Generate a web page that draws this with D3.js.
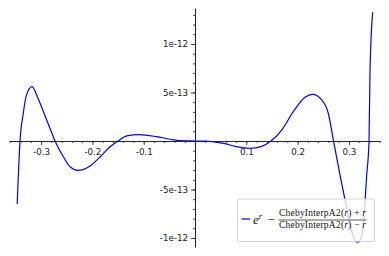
<!DOCTYPE html>
<html>
<head>
<meta charset="utf-8">
<script src="https://d3js.org/d3.v7.min.js"></script>
<style>
  body { margin: 0; background: #fff; }
  .tick text { font-family: "DejaVu Sans", sans-serif; font-size: 8.7px; fill: #222; }
</style>
</head>
<body>
<div id="chart"></div>
<script>
// set the dimensions of the graph
const width = 389
const height = 256

// curve (r, error)
var rVals = [-0.3466, -0.3411, -0.3347, -0.3294, -0.3177, -0.3074, -0.2943, -0.2840, -0.2729,
  -0.2567, -0.2437, -0.2281, -0.2047, -0.1852, -0.1657, -0.1501, -0.1331, -0.1086, -0.0747,
  -0.0487, -0.0292, 0, 0.0195, 0.0585, 0.0780, 0.1072, 0.1300, 0.1481, 0.1690, 0.1916,
  0.2144, 0.2294, 0.2470, 0.2598, 0.2700, 0.2827, 0.2924, 0.3055, 0.3133, 0.3172, 0.3230,
  0.3281, 0.3347, 0.3392, 0.3411, 0.3464]
var errVals = [-6.5e-13, 0, 2.86e-13, 4.57e-13, 5.6e-13, 4.57e-13, 2.86e-13, 1.47e-13, 0,
  -1.62e-13, -2.65e-13, -3.04e-13, -2.58e-13, -1.65e-13, -0.59e-13, 0, 0.52e-13, 0.65e-13, 0.44e-13,
  0.18e-13, 0.03e-13, 0, -0.01e-13, -0.28e-13, -0.55e-13, -0.75e-13, -0.55e-13, 0, 1.13e-13, 3.02e-13,
  4.51e-13, 4.81e-13, 4.23e-13, 2.86e-13, 0, -3.51e-13, -6.08e-13, -9.35e-13, -10.3e-13, -10.44e-13, -10.1e-13,
  -8.66e-13, -3.51e-13, 0, 7.14e-13, 13.27e-13]

// ticks
var xMajor = [-0.3, -0.2, -0.1, 0.1, 0.2, 0.3]
var xMinor = d3.range(-36, 37, 2).map(function(d){ return d / 100 })
var yMajor = [-1e-12, -5e-13, 5e-13, 1e-12]
var yMajorLabels = ["-1e-12", "-5e-13", "5e-13", "1e-12"]
var yMinor = d3.range(-10, 14).map(function(d){ return d * 1e-13 })

var svg = d3.select("#chart")
  .append("svg")
  .attr("width", width)
  .attr("height", height)

var x = d3.scaleLinear()
  .domain([-0.3626, 0.3606])
  .range([9, 380])

var y = d3.scaleLinear()
  .domain([-1.093e-12, 1.371e-12])
  .range([247, 8])

// minor ticks first
svg.append("g")
  .attr("transform", "translate(0," + y(0) + ")")
  .call(d3.axisBottom(x).tickValues(xMinor).tickSize(2).tickFormat(""))
  .call(function(g){ g.select(".domain").remove() })

svg.append("g")
  .attr("transform", "translate(" + x(0) + ",0)")
  .call(d3.axisLeft(y).tickValues(yMinor).tickSize(2).tickFormat(""))
  .call(function(g){ g.select(".domain").remove() })

// x axis
svg.append("g")
  .attr("transform", "translate(0," + y(0) + ")")
  .call(d3.axisBottom(x)
    .tickValues(xMajor)
    .tickSize(4)
    .tickSizeOuter(0)
    .tickPadding(4)
    .tickFormat(d3.format(".1f")))
  .call(function(g){ g.selectAll("text").text(function(d){ return d3.format(".1f")(d).replace("−", "-") }) })

// y axis
svg.append("g")
  .attr("transform", "translate(" + x(0) + ",0)")
  .call(d3.axisLeft(y)
    .tickValues(yMajor)
    .tickSize(4)
    .tickSizeOuter(0)
    .tickPadding(3)
    .tickFormat(function(d, i){ return yMajorLabels[i] }))

svg.selectAll(".domain").attr("stroke", "#222").attr("stroke-width", 1)
svg.selectAll(".tick line").attr("stroke", "#222").attr("stroke-width", 0.8)

// the error curve
var pts = rVals.map(function(r, i){ return [r, errVals[i]] })

var line = d3.line()
  .x(function(d){ return x(d[0]) })
  .y(function(d){ return y(d[1]) })
  .curve(d3.curveMonotoneX)

svg.append("path")
  .datum(pts)
  .attr("fill", "none")
  .attr("stroke", "blue")
  .attr("stroke-width", 1.2)
  .attr("d", line)

// legend
var legend = svg.append("g")

legend.append("rect")
  .attr("x", 237.5)
  .attr("y", 199)
  .attr("width", 137)
  .attr("height", 42.5)
  .attr("rx", 2)
  .attr("fill", "white")
  .attr("fill-opacity", 0.8)
  .attr("stroke", "#ccc")
  .attr("stroke-width", 0.8)

legend.append("line")
  .attr("x1", 241.5).attr("x2", 250)
  .attr("y1", 219).attr("y2", 219)
  .attr("stroke", "blue")
  .attr("stroke-width", 1.2)

var math = legend.append("g")
  .style("font-family", "'Liberation Serif', 'DejaVu Serif', serif")
  .attr("fill", "#111")

var eText = math.append("text")
  .attr("x", 253)
  .attr("y", 223.5)
  .style("font-size", "13px")
eText.append("tspan").style("font-style", "italic").text("e")
eText.append("tspan").style("font-style", "italic").style("font-size", "9px").attr("dy", -5).text("r")

math.append("text")
  .attr("x", 267.5)
  .attr("y", 223.5)
  .style("font-size", "13px")
  .text("−")

math.append("line")
  .attr("x1", 278.5).attr("x2", 366.5)
  .attr("y1", 220).attr("y2", 220)
  .attr("stroke", "#111")
  .attr("stroke-width", 0.7)

function fracPart(yPos, sign) {
  var t = math.append("text")
    .attr("x", 322.5)
    .attr("y", yPos)
    .attr("text-anchor", "middle")
    .attr("textLength", 87)
    .style("font-size", "9.5px")
  t.append("tspan").text("ChebyInterpA2(")
  t.append("tspan").style("font-style", "italic").text("r")
  t.append("tspan").text(") " + sign + " ")
  t.append("tspan").style("font-style", "italic").text("r")
}
fracPart(216, "+")
fracPart(228, "−")
</script>
</body>
</html>
